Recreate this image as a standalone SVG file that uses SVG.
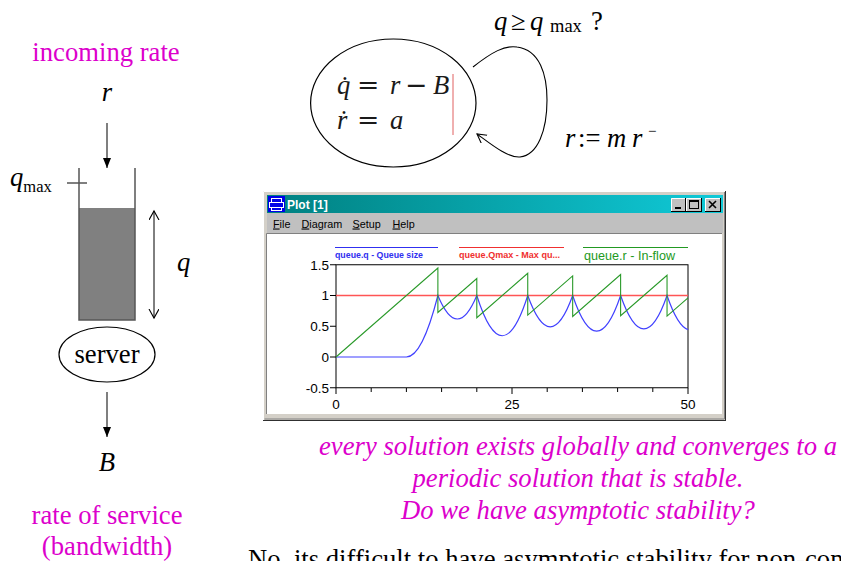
<svg xmlns="http://www.w3.org/2000/svg" width="841" height="561" viewBox="0 0 841 561">
<style>
.s{font-family:"Liberation Serif","Times New Roman",serif;font-size:26.67px;fill:#000}
.it{font-style:italic}
.mag{fill:#dc00cc}
.eq{fill:#1a1a1a}
.op{font-family:"DejaVu Serif","Liberation Serif",serif;font-style:normal}
.ui{font-family:"Liberation Sans",Arial,sans-serif}
.gl{fill:none;stroke:#555;stroke-width:1.5}
.tk{stroke:#000;stroke-width:1;fill:none}
.lbl{font-family:"Liberation Sans",Arial,sans-serif;font-size:13.5px;fill:#000}
.menu{font-family:"Liberation Sans",Arial,sans-serif;font-size:10.8px;fill:#000}
.btn{fill:#c0c0c0}
</style>
<defs>
<marker id="fa" markerWidth="10" markerHeight="8" refX="10" refY="4" orient="auto" markerUnits="userSpaceOnUse"><path d="M0,0 L10,4 L0,8 z" fill="#000"/></marker>
<marker id="oa" markerWidth="12" markerHeight="12" refX="9" refY="5" orient="auto-start-reverse" markerUnits="userSpaceOnUse"><path d="M0,0 L9,5 L0,10" fill="none" stroke="#000" stroke-width="1.1"/></marker>
<linearGradient id="tb" x1="0" x2="1" y1="0" y2="0"><stop offset="0" stop-color="#008080"/><stop offset="1" stop-color="#10cad8"/></linearGradient>
</defs>

<!-- left diagram -->
<g id="incoming-label"><text class="s mag" x="106" y="61" text-anchor="middle">incoming rate</text></g>
<g id="r-label"><text class="s it" x="107" y="101" text-anchor="middle">r</text></g>
<g id="queue">
<rect x="79" y="208" width="56" height="112" fill="#808080"/>
<path class="gl" d="M79,168 V320 H135 V168"/>
<line class="gl" x1="67" y1="183" x2="87" y2="183"/>
<text class="s it" x="10" y="186">q<tspan style="font-style:normal;font-size:16.5px" dy="6">max</tspan></text>
</g>
<g id="q-label"><text class="s it" x="177" y="271">q</text></g>
<g id="server">
<ellipse cx="107" cy="354.5" rx="48" ry="27.5" fill="none" stroke="#000" stroke-width="1.2"/>
<text class="s" x="107" y="363" text-anchor="middle">server</text>
</g>
<g id="B-label"><text class="s it" x="107" y="471" text-anchor="middle">B</text></g>
<g id="service-label">
<text class="s mag" x="107" y="524" text-anchor="middle">rate of service</text>
<text class="s mag" x="107" y="555" text-anchor="middle">(bandwidth)</text>
</g>

<!-- hybrid automaton -->
<g id="mode">
<ellipse cx="393.3" cy="103" rx="82.7" ry="64" fill="none" stroke="#000" stroke-width="1.2"/>
<text class="s eq" y="94"><tspan class="it" x="337">q̇</tspan><tspan class="op" x="357">=</tspan><tspan class="it" x="390">r</tspan><tspan class="op" x="405">−</tspan><tspan class="it" x="433">B</tspan></text>
<text class="s eq" y="128.5"><tspan class="it" x="337">ṙ</tspan><tspan class="op" x="357">=</tspan><tspan class="it" x="390">a</tspan></text>
<line x1="453" y1="74" x2="453" y2="135" stroke="#e06060" stroke-width="1"/>
</g>
<g id="guard"><text class="s" y="30"><tspan class="it" x="494">q</tspan><tspan x="511">≥</tspan><tspan class="it" x="530">q</tspan><tspan x="550" style="font-size:18.5px" dy="2">max</tspan><tspan x="591" dy="-2">?</tspan></text></g>
<g id="reset"><text class="s" y="147"><tspan class="it" x="565">r</tspan><tspan x="578">:=</tspan><tspan class="it" x="607">m</tspan><tspan class="it" x="632">r</tspan><tspan x="648" dy="-11" style="font-size:15px">−</tspan></text></g>

<!-- connectors -->
<g id="connectors">
<line x1="107" y1="123" x2="107" y2="168" stroke="#555" stroke-width="1.5" marker-end="url(#fa)"/>
<line x1="107" y1="392" x2="107" y2="437" stroke="#555" stroke-width="1.5" marker-end="url(#fa)"/>
<line x1="154" y1="211" x2="154" y2="318" stroke="#000" stroke-width="1" marker-start="url(#oa)" marker-end="url(#oa)"/>
<path d="M473,67 C492,52 505,45 517,47 C540,50 547,75 547,100 C547,130 538,155 520,157 C508,158 492,145 477,134" fill="none" stroke="#000" stroke-width="1.1" marker-end="url(#oa)"/>
</g>

<!-- plot window -->
<g id="plot-window">
<rect x="263" y="191" width="463" height="230" fill="#d4d0c8"/>
<path d="M263.5,420 V191.5 H725" stroke="#fff" fill="none"/>
<path d="M263,420.5 H726 M725.5,191 V421" stroke="#303030" fill="none"/>
<path d="M264.5,419 H724.5 V192" stroke="#808080" fill="none"/>
<rect x="267" y="195" width="456" height="18" fill="url(#tb)"/>
<rect x="268" y="196" width="17" height="16" fill="#0000e8"/>
<rect x="271.5" y="198.5" width="10" height="4" fill="none" stroke="#fff"/>
<rect x="269.5" y="202.5" width="14" height="5" fill="none" stroke="#fff"/>
<rect x="271.5" y="207.5" width="10" height="3" fill="none" stroke="#fff"/>
<text class="ui" x="287" y="209" font-size="12" font-weight="bold" fill="#fff">Plot [1]</text>
<g id="buttons">
<rect class="btn" x="671" y="198" width="15" height="14"/>
<path d="M671.5,211.5 V198.5 H685.5" stroke="#fff" fill="none"/>
<path d="M671,211.5 H686 M685.5,198 V212" stroke="#000" fill="none"/>
<rect x="675" y="207" width="6" height="2" fill="#000"/>
<rect class="btn" x="686" y="198" width="16" height="14"/>
<path d="M686.5,211.5 V198.5 H701.5" stroke="#fff" fill="none"/>
<path d="M686,211.5 H702 M701.5,198 V212" stroke="#000" fill="none"/>
<rect x="689.5" y="200.5" width="9" height="8" fill="none" stroke="#000"/>
<line x1="689" y1="201.5" x2="699" y2="201.5" stroke="#000"/>
<rect class="btn" x="705" y="198" width="16" height="14"/>
<path d="M705.5,211.5 V198.5 H720.5" stroke="#fff" fill="none"/>
<path d="M705,211.5 H721 M720.5,198 V212" stroke="#000" fill="none"/>
<path d="M709,201 L716,208 M716,201 L709,208" stroke="#000" stroke-width="1.6"/>
</g>
<rect x="267" y="213" width="456" height="20" fill="#c0c0c0"/>
<text class="menu" y="227.5"><tspan x="273" text-decoration="underline">F</tspan><tspan>ile</tspan></text>
<text class="menu" y="227.5"><tspan x="301.5" text-decoration="underline">D</tspan><tspan>iagram</tspan></text>
<text class="menu" y="227.5"><tspan x="352.5" text-decoration="underline">S</tspan><tspan>etup</tspan></text>
<text class="menu" y="227.5"><tspan x="392.5" text-decoration="underline">H</tspan><tspan>elp</tspan></text>
<rect x="267" y="234" width="455" height="180" fill="#fff"/>
<path d="M266.5,414 V233.5 H722" stroke="#808080" fill="none"/>
</g>

<g id="plot">
<line x1="335" y1="247.5" x2="438" y2="247.5" stroke="#3030f0"/>
<line x1="459" y1="247.5" x2="564" y2="247.5" stroke="#f03030"/>
<line x1="583" y1="247.5" x2="688" y2="247.5" stroke="#229922"/>
<text class="ui" x="335" y="257.5" font-size="9.2" font-weight="bold" fill="#3030f0" textLength="88" lengthAdjust="spacingAndGlyphs">queue.q - Queue size</text>
<text class="ui" x="459" y="257.5" font-size="9.2" font-weight="bold" fill="#f03030" textLength="101" lengthAdjust="spacingAndGlyphs">queue.Qmax - Max qu...</text>
<text class="ui" x="584" y="259.5" font-size="12.6" fill="#229922">queue.r - In-flow</text>
<rect class="tk" x="336" y="264.75" width="352" height="123"/>
<path class="tk" d="M330,264.75 H336 M330,295.5 H336 M330,326.25 H336 M330,357 H336 M330,387.75 H336"/>
<path class="tk" d="M336,388 V394 M371.2,388 V392 M406.4,388 V392 M441.6,388 V392 M476.8,388 V392 M512,388 V394 M547.2,388 V392 M582.4,388 V392 M617.6,388 V392 M652.8,388 V392 M688,388 V394"/>
<text class="lbl" x="329" y="269.5" text-anchor="end">1.5</text>
<text class="lbl" x="329" y="300.3" text-anchor="end">1</text>
<text class="lbl" x="329" y="331" text-anchor="end">0.5</text>
<text class="lbl" x="329" y="361.8" text-anchor="end">0</text>
<text class="lbl" x="329" y="392.5" text-anchor="end">-0.5</text>
<text class="lbl" x="336" y="409" text-anchor="middle">0</text>
<text class="lbl" x="512" y="409" text-anchor="middle">25</text>
<text class="lbl" x="688" y="409" text-anchor="middle">50</text>
<line x1="336" y1="295.5" x2="688" y2="295.5" stroke="#ff5555" stroke-width="1.4"/>
<path d="M336,357 L406.4,357 Q422.14,357 437.88,295.5 Q457.34,342.49 476.8,295.5 Q502.27,376 527.74,295.5 Q550.21,358.12 572.67,295.5 Q596.64,366.78 620.61,295.5 Q643.82,362.38 667.04,295.5 Q677.52,326.18 688,329.6" fill="none" stroke="#4040ff" stroke-width="1.2"/>
<polyline points="336,357 437.88,268 437.88,312.5 476.8,278.5 476.8,317.75 527.74,273.25 527.74,315.12 572.67,275.88 572.67,316.44 620.61,274.56 620.61,315.78 667.04,275.22 667.04,316.11 688,297.8" fill="none" stroke="#2a9a2a" stroke-width="1.1"/>
</g>

<!-- caption -->
<g id="caption">
<text class="s it mag" x="578" y="455" text-anchor="middle">every solution exists globally and converges to a</text>
<text class="s it mag" x="578" y="487" text-anchor="middle">periodic solution that is stable.</text>
<text class="s it mag" x="578" y="519" text-anchor="middle">Do we have asymptotic stability?</text>
<text class="s" x="248" y="568">No, its difficult to have asymptotic stability for non-con</text>
</g>
</svg>
